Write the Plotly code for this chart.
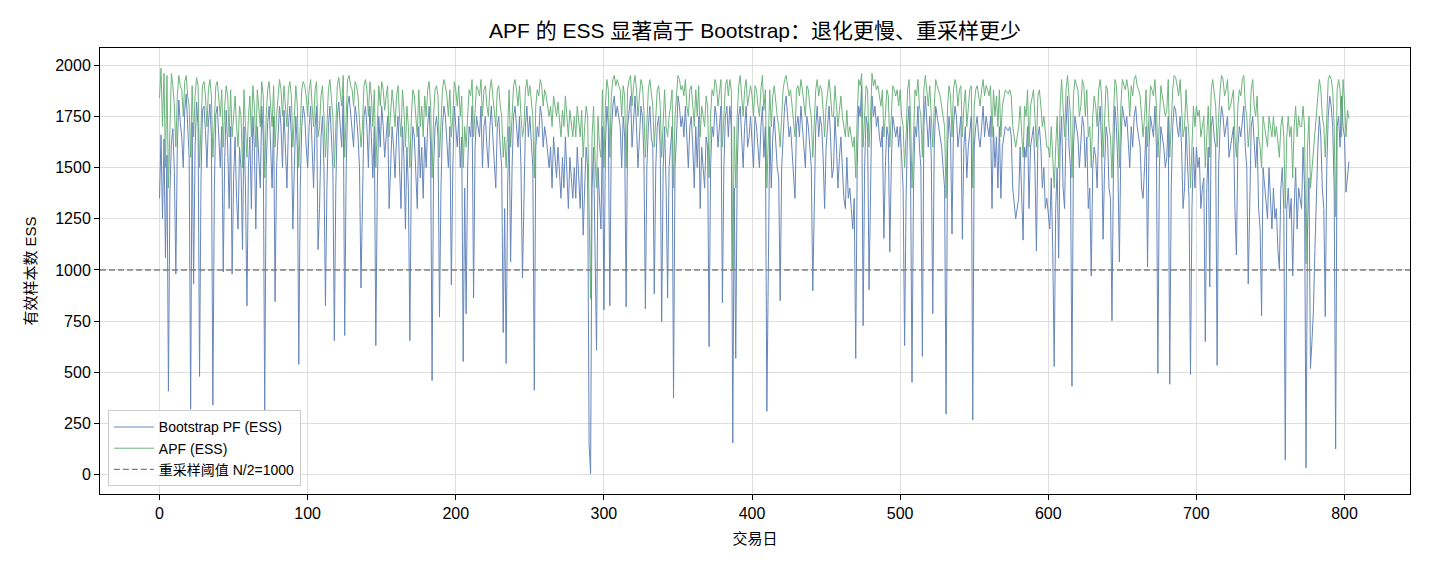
import plotly.graph_objects as go

title_text = "APF 的 ESS 显著高于 Bootstrap：退化更慢、重采样更少"
x_label = "交易日"
y_label = "有效样本数 ESS"
name_bootstrap = "Bootstrap PF (ESS)"
name_apf = "APF (ESS)"
name_threshold = "重采样阈值 N/2=1000"
threshold = 1000
x_ticks = [0, 100, 200, 300, 400, 500, 600, 700, 800]
y_ticks = [0, 250, 500, 750, 1000, 1250, 1500, 1750, 2000]

bootstrap_ess = [
    1350,1660,1250,1640,1060,1560,408,1380,1620,1690,1480,980,1600,1830,1720,1650,1500,1780,1860,1700,
    1550,320,1720,932,1600,1820,1700,480,1450,1780,1800,1680,1500,1720,1810,1650,340,1400,1760,1800,
    1600,1500,1700,990,1550,1780,1600,1300,1700,980,1450,1650,1350,1200,1600,1500,1100,1700,1400,825,
    1500,1650,1300,1750,1600,1200,1700,1550,1400,1800,1650,310,1500,1720,1800,1600,1400,1750,845,1500,
    1650,1800,1700,1500,1780,1600,1400,1700,1800,1650,1200,1500,1750,1600,539,1400,1700,1800,1750,1600,
    1500,1700,1800,1600,1400,1700,1800,1100,1300,1650,1750,1500,825,1400,1700,1800,1600,1500,655,1400,
    1750,1820,1700,1600,1850,680,1500,1800,1850,1750,1700,1600,1800,1750,1650,1500,912,1400,1750,1800,
    1700,1500,1800,1650,1450,1700,631,1400,1750,1600,1800,1700,1550,1650,1750,1300,1500,1700,1600,1450,
    1650,1750,1500,1300,1700,1550,1200,1600,1400,655,1500,1700,1650,1500,1300,1700,1450,1600,1350,1650,
    1500,1700,1800,1600,460,1500,1700,1750,1650,770,1400,1700,1800,1750,1650,1500,1700,927,1500,1800,
    1700,1600,1750,1500,1650,553,1400,786,1500,1700,1650,1800,864,1600,1750,1700,1650,1800,1500,1700,
    1750,1600,1500,1700,1800,1650,1550,1400,1700,1750,1600,1500,694,1300,543,1400,1700,1040,1500,1750,
    1800,1700,1600,1750,1500,961,1400,1700,1800,1650,1750,1600,1500,413,1600,1700,1650,1800,1750,1600,
    1700,1650,1550,1500,1600,1400,1650,1550,1450,1600,1500,1350,1550,1400,1650,1500,1300,1550,1450,1350,
    1500,1350,1600,1450,1300,1550,1170,1400,1600,1500,150,5,1400,1600,1100,608,1500,1300,1200,1700,
    805,1600,1800,1700,825,1650,1800,1850,1750,1800,1750,1700,1500,1750,1650,820,1700,1800,1850,1600,
    1750,1850,1700,1500,1650,1800,1750,1550,810,1500,1700,1800,1650,1600,883,1500,1700,1750,1600,748,
    1500,1700,1400,864,1500,1600,1700,375,1500,1650,1850,1800,1700,1750,1650,1800,1600,1500,1700,1750,
    1600,1400,1700,1500,1750,1300,1600,1500,1400,1650,1600,625,1500,1700,1650,1800,1750,1600,1700,1800,
    840,1500,1750,1800,1650,1800,1700,155,1400,568,1500,1750,1800,1650,1500,1700,1800,1600,1650,1750,
    1650,1500,1750,1700,1600,1500,1700,1800,1550,1700,310,1150,1700,1400,1650,1750,1600,1500,1450,850,
    1500,1700,1800,1850,1750,1650,1700,1600,1500,1350,1700,1750,1650,1800,1700,1600,1500,1750,1700,1600,
    1500,898,1400,1700,1800,1650,1750,1700,1550,1300,1600,1700,1800,1650,1450,1500,1750,1600,1400,1550,
    1650,1500,1350,1300,1550,1350,1400,1300,1200,1350,568,1500,1800,1750,1900,728,1500,1750,1700,903,
    1500,1850,1750,1800,1700,1750,1650,1600,1700,1155,1500,1700,1650,1087,1500,1750,1700,1650,1700,1600,
    1700,1550,1400,631,1350,1700,1800,1500,451,1400,1700,1650,1800,1600,1500,578,1700,1850,1700,1600,
    1750,1550,786,1600,1800,1750,1700,1650,1600,1500,1400,296,1600,1750,1650,1175,1700,1800,1750,1600,
    1700,1750,1150,1600,1700,1450,1600,1700,1750,267,1600,1700,1750,1650,1600,1700,1800,1650,1750,1700,
    1650,1750,1300,1700,1500,1650,1400,1700,1350,1600,1650,1700,1690,1680,1700,1650,1400,1300,1250,1300,
    1350,1600,1400,1146,1600,1550,1700,1300,1600,1650,1700,1500,1092,1650,1700,1600,1400,1500,1300,1350,
    1250,1200,1450,1100,529,1300,1500,1058,1600,1750,1400,1300,1700,1850,1600,1500,432,1600,1750,1700,
    1650,1500,1600,1750,1700,1500,1650,1300,1400,970,1500,1600,1550,1400,1700,1800,1600,1150,1500,1700,
    1650,1400,1350,752,1500,1800,1700,1500,1039,1600,1800,1750,1700,1750,1650,1500,1700,1600,1750,1800,
    1700,1650,1600,1400,1350,1500,1700,1015,1600,1750,1700,1650,1800,1600,495,1500,1700,1650,1600,1500,
    1550,1750,442,1400,1700,1800,1780,1700,1650,1750,1600,1300,1400,1700,1500,1350,490,1300,1600,1400,
    1600,1500,1550,1300,1400,1450,650,1400,1600,917,1700,1750,1650,1600,534,1500,1700,1800,1750,1650,
    1700,1750,1550,1600,1650,1700,1300,1073,1600,1700,1650,1750,1800,1600,1500,932,1400,1700,1750,1600,
    1500,1650,1300,1200,777,1500,1400,1300,1250,1500,1350,1200,1400,1250,1300,1100,1005,1400,1500,1300,
    73,1300,1400,1250,1350,971,1300,1500,1200,1400,1350,1300,1600,1400,34,1200,1450,519,650,800,
    1100,1400,1600,1750,1650,1400,1300,772,1500,1750,1850,1800,1700,1400,126,1700,1750,1600,1850,1700,
    1650,1380,1480,1530,
]

apf_ess = [
    1840,1985,1700,1960,1500,1950,1400,1750,1960,1900,1800,1600,1850,1950,1900,1880,1750,1920,1950,1850,
    1800,1550,1900,1650,1850,1940,1900,1500,1750,1900,1920,1850,1700,1880,1930,1850,1550,1700,1900,1920,
    1850,1750,1880,1600,1800,1900,1850,1650,1880,1650,1750,1850,1700,1600,1800,1750,1500,1880,1700,1550,
    1750,1850,1650,1900,1800,1600,1880,1800,1700,1920,1850,1450,1750,1880,1920,1800,1700,1900,1600,1750,
    1850,1930,1880,1750,1900,1800,1700,1880,1920,1850,1600,1750,1900,1800,1500,1700,1880,1920,1900,1850,
    1750,1880,1930,1800,1700,1880,1920,1650,1700,1850,1900,1750,1550,1700,1880,1930,1850,1750,1500,1700,
    1900,1940,1880,1800,1950,1550,1750,1930,1950,1900,1880,1800,1920,1900,1850,1750,1600,1700,1900,1930,
    1880,1750,1920,1850,1700,1880,1500,1700,1900,1800,1920,1880,1780,1850,1900,1650,1750,1880,1800,1700,
    1850,1900,1750,1650,1880,1780,1600,1800,1700,1500,1750,1880,1850,1750,1650,1880,1700,1800,1650,1850,
    1750,1880,1920,1800,1450,1750,1880,1900,1850,1550,1700,1880,1930,1900,1850,1750,1880,1650,1750,1920,
    1880,1800,1900,1750,1850,1500,1700,1600,1750,1880,1850,1930,1650,1800,1900,1880,1850,1930,1750,1880,
    1900,1800,1750,1880,1930,1850,1780,1700,1880,1900,1800,1750,1550,1650,1500,1700,1880,1600,1750,1900,
    1930,1880,1800,1900,1750,1650,1700,1880,1930,1850,1900,1800,1750,1450,1800,1880,1850,1930,1900,1800,
    1880,1850,1800,1750,1800,1700,1850,1800,1750,1820,1750,1650,1780,1700,1850,1750,1650,1780,1720,1650,
    1750,1650,1800,1700,1650,1780,1550,1700,1800,1750,1200,860,1650,1800,1550,1400,1750,1600,1550,1880,
    1500,1800,1930,1880,1550,1850,1930,1950,1900,1930,1900,1880,1750,1900,1850,1500,1880,1930,1950,1800,
    1900,1950,1880,1750,1850,1930,1900,1780,1550,1750,1880,1930,1850,1800,1600,1750,1880,1900,1800,1550,
    1750,1880,1700,1650,1750,1800,1880,1400,1750,1850,1950,1930,1880,1900,1850,1930,1800,1750,1880,1900,
    1800,1700,1880,1750,1900,1650,1800,1750,1700,1850,1800,1450,1750,1880,1850,1930,1900,1800,1880,1930,
    1600,1750,1900,1930,1850,1930,1880,1000,1700,1400,1750,1900,1950,1850,1750,1880,1930,1800,1850,1900,
    1850,1750,1900,1880,1800,1750,1880,1950,1780,1880,1400,1600,1880,1700,1850,1900,1800,1750,1700,1600,
    1750,1880,1930,1950,1900,1850,1880,1800,1750,1650,1880,1900,1850,1930,1880,1800,1750,1900,1880,1800,
    1750,1550,1700,1880,1930,1850,1900,1880,1780,1650,1800,1880,1930,1850,1750,1750,1900,1800,1700,1780,
    1850,1750,1700,1650,1780,1650,1700,1650,1600,1650,1450,1750,1930,1900,1960,1600,1750,1900,1880,1600,
    1750,1960,1900,1930,1880,1900,1850,1800,1880,1650,1750,1880,1850,1600,1750,1900,1880,1850,1880,1800,
    1880,1750,1700,1500,1650,1880,1930,1750,1400,1700,1880,1850,1930,1800,1750,1550,1880,1950,1880,1800,
    1900,1750,1600,1800,1930,1900,1880,1850,1800,1750,1700,1350,1800,1900,1850,1650,1880,1930,1900,1800,
    1880,1900,1650,1800,1880,1700,1800,1880,1900,1400,1800,1880,1900,1850,1800,1880,1930,1850,1900,1880,
    1850,1900,1650,1880,1750,1850,1700,1880,1650,1800,1850,1880,1870,1860,1880,1850,1700,1650,1600,1650,
    1700,1800,1700,1550,1800,1750,1880,1600,1800,1850,1880,1750,1600,1850,1880,1800,1700,1750,1650,1600,
    1600,1550,1700,1500,1400,1600,1750,1500,1800,1930,1750,1650,1880,1950,1850,1750,1450,1850,1930,1900,
    1880,1750,1800,1930,1900,1750,1880,1650,1700,1500,1750,1850,1800,1700,1880,1930,1850,1550,1750,1900,
    1880,1700,1650,1450,1750,1930,1900,1750,1500,1800,1930,1900,1880,1930,1880,1750,1900,1850,1930,1950,
    1900,1880,1850,1750,1650,1750,1880,1600,1800,1900,1880,1850,1930,1800,1550,1750,1900,1850,1800,1750,
    1780,1930,1550,1700,1880,1950,1940,1900,1850,1930,1800,1650,1700,1880,1750,1650,1400,1650,1800,1700,
    1800,1750,1780,1650,1700,1750,1500,1700,1800,1550,1880,1930,1850,1800,1600,1750,1880,1950,1930,1850,
    1880,1930,1780,1800,1850,1880,1650,1550,1800,1880,1850,1930,1950,1800,1750,1600,1700,1880,1930,1800,
    1750,1850,1650,1600,1500,1750,1700,1650,1600,1750,1700,1650,1750,1650,1700,1600,1550,1700,1750,1650,
    1300,1650,1750,1650,1700,1450,1700,1800,1650,1750,1700,1700,1800,1700,1030,1600,1750,1400,1500,1600,
    1650,1750,1850,1930,1880,1750,1700,1550,1750,1930,1950,1930,1880,1700,1260,1880,1930,1880,1650,1930,
    1820,1650,1780,1740,
]

days = list(range(len(bootstrap_ess)))

FONT = "Liberation Sans, Arial, Noto Sans CJK SC, sans-serif"

fig = go.Figure()
fig.add_trace(go.Scatter(
    x=days, y=bootstrap_ess, mode="lines", name=name_bootstrap,
    line=dict(color="#4c72b0", width=1), opacity=0.85,
))
fig.add_trace(go.Scatter(
    x=days, y=apf_ess, mode="lines", name=name_apf,
    line=dict(color="#55a868", width=1), opacity=0.85,
))
fig.add_trace(go.Scatter(
    x=[None], y=[None], mode="lines", name=name_threshold,
    line=dict(color="#808080", width=1.3, dash="6px,3px"),
))
fig.add_hline(y=threshold, line=dict(color="#808080", width=1.3, dash="6px,3px"))

axis_common = dict(
    showline=True, linecolor="black", linewidth=1, mirror=True,
    ticks="outside", ticklen=5, tickwidth=1, tickcolor="black",
    showgrid=True, gridcolor="#dedede", gridwidth=1, zeroline=False,
    tickfont=dict(size=16, color="black", family=FONT),
)

fig.update_layout(
    width=1430, height=572,
    margin=dict(l=100, r=20, t=48, b=78),
    paper_bgcolor="white", plot_bgcolor="white",
    font=dict(family=FONT, color="black"),
    title=dict(text=title_text, xref="paper", x=0.5, xanchor="center",
               yref="container", y=0.947, yanchor="middle",
               font=dict(size=21, color="black", family=FONT)),
    xaxis=dict(range=[-40.2, 844.2], tickvals=x_ticks,
               title=dict(text=x_label, font=dict(size=15, family=FONT), standoff=12),
               **axis_common),
    yaxis=dict(range=[-94, 2084], tickvals=y_ticks,
               title=dict(text=y_label, font=dict(size=15, family=FONT), standoff=14),
               **axis_common),
    legend=dict(x=0.006, y=0.017, xanchor="left", yanchor="bottom",
                bgcolor="rgba(255,255,255,0.85)", bordercolor="#cccccc", borderwidth=1,
                font=dict(size=14, color="black", family=FONT),
                tracegroupgap=0, itemwidth=40),
    showlegend=True,
)

fig.write_html("out.html")
